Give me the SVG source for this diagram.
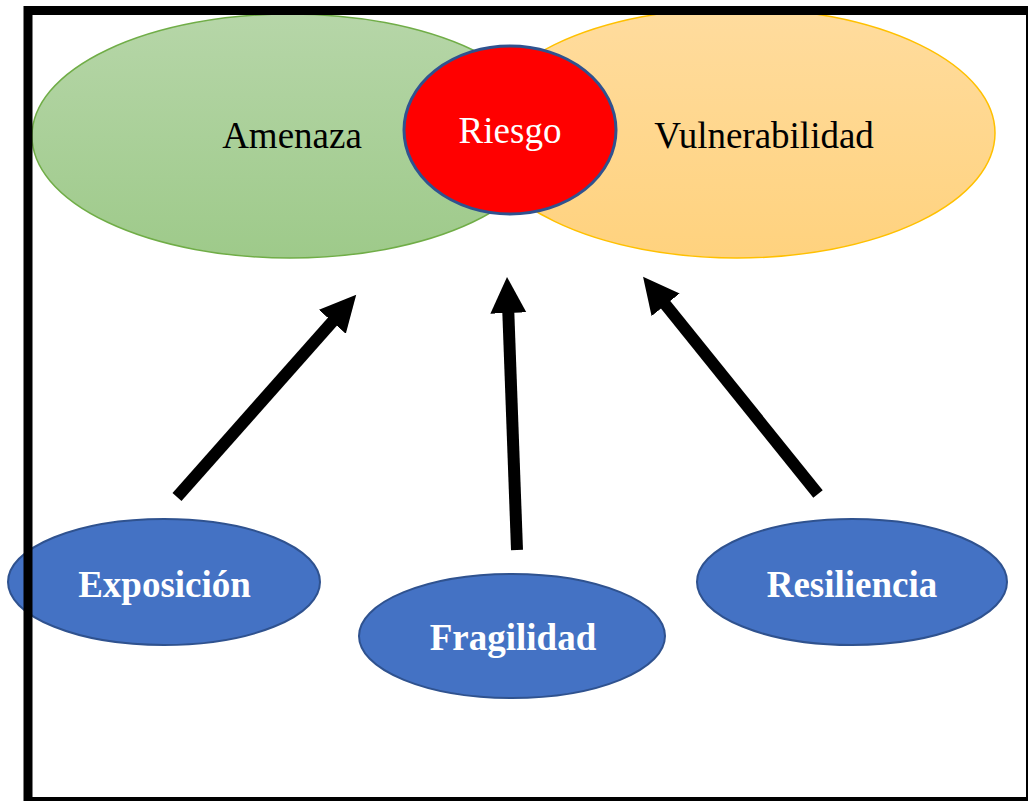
<svg xmlns="http://www.w3.org/2000/svg" width="1028" height="801" viewBox="0 0 1028 801">
<defs>
<linearGradient id="gGreen" x1="0" y1="0" x2="0" y2="1"><stop offset="0" stop-color="#B6D6A8"/><stop offset="1" stop-color="#9ECA8A"/></linearGradient>
<linearGradient id="gYellow" x1="0" y1="0" x2="0" y2="1"><stop offset="0" stop-color="#FFDC9E"/><stop offset="1" stop-color="#FFD27E"/></linearGradient>
<marker id="head" markerUnits="userSpaceOnUse" markerWidth="37" markerHeight="38" viewBox="0 -19 37 38" refX="1" refY="0" orient="auto"><path d="M0,-18 L36,0 L0,18 z" fill="#000"/></marker>
<style>
.serif{font-family:"Liberation Serif","Times New Roman",serif;font-size:37px;text-anchor:middle}
.bold{font-weight:bold;fill:#fff}
.blue{fill:#4472C4;stroke:#2F528F;stroke-width:2}
.conn{stroke:#000;stroke-width:12;fill:none;marker-end:url(#head)}
</style>
</defs>
<rect x="0" y="0" width="1028" height="801" fill="#fff"/>
<g id="amenaza">
<ellipse cx="290" cy="136" rx="258" ry="122" fill="url(#gGreen)" stroke="#70AD47" stroke-width="1.5"/>
<text class="serif" x="292" y="148" fill="#000">Amenaza</text>
</g>
<g id="vulnerabilidad">
<ellipse cx="737" cy="133" rx="258" ry="125" fill="url(#gYellow)" stroke="#FFC000" stroke-width="1.5"/>
<text class="serif" x="764" y="148" fill="#000">Vulnerabilidad</text>
</g>
<g id="riesgo">
<ellipse cx="510" cy="130" rx="106" ry="84" fill="#FF0000" stroke="#2F528F" stroke-width="3"/>
<text class="serif" x="510" y="143" fill="#fff">Riesgo</text>
</g>
<g id="exposicion">
<ellipse class="blue" cx="164" cy="582" rx="156" ry="63"/>
<text class="serif bold" x="164.5" y="597">Exposición</text>
</g>
<g id="fragilidad">
<ellipse class="blue" cx="512" cy="636" rx="153" ry="62"/>
<text class="serif bold" x="513" y="650">Fragilidad</text>
</g>
<g id="resiliencia">
<ellipse class="blue" cx="852" cy="582" rx="155" ry="63"/>
<text class="serif bold" x="852" y="597">Resiliencia</text>
</g>
<g id="connectors">
<line class="conn" x1="177" y1="497" x2="333" y2="321"/>
<line class="conn" x1="517" y1="550" x2="508.3" y2="312"/>
<line class="conn" x1="818" y1="494" x2="665" y2="304"/>
</g>
<rect id="frame" x="28" y="10.5" width="1002.5" height="791" fill="none" stroke="#000" stroke-width="9"/>
</svg>
